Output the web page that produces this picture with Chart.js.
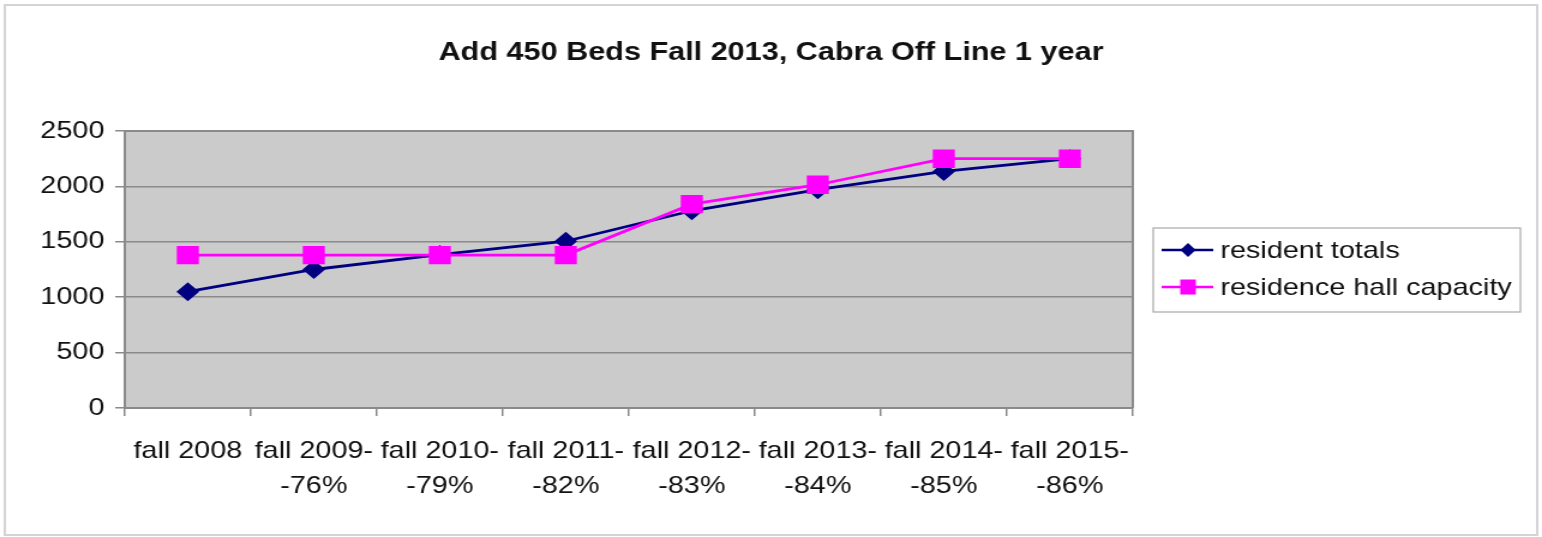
<!DOCTYPE html>
<html>
<head>
<meta charset="utf-8">
<script src="https://cdn.jsdelivr.net/npm/chart.js@4"></script>
<style>
  body { margin: 0; background: #fff; }
  #grafico { display: block; }
</style>
</head>
<body>
<!-- the reference is stretched sideways, so the canvas is drawn narrow and widened by the inline style -->
<canvas id="grafico" width="1285" height="537" style="width: 1542px; height: 537px;"></canvas>
<script>
let titulo = "Add 450 Beds Fall 2013, Cabra Off Line 1 year";

let categorias = [
  ["fall 2008"],
  ["fall 2009-", "-76%"],
  ["fall 2010-", "-79%"],
  ["fall 2011-", "-82%"],
  ["fall 2012-", "-83%"],
  ["fall 2013-", "-84%"],
  ["fall 2014-", "-85%"],
  ["fall 2015-", "-86%"]
];

let residentTotals = [1050, 1250, 1385, 1505, 1780, 1970, 2135, 2250];
let hallCapacity = [1380, 1380, 1380, 1380, 1840, 2015, 2250, 2250];

let ticksY = [0, 500, 1000, 1500, 2000, 2500];

let fonte = "'Liberation Sans', Arial, sans-serif";

let fundoEBorda = {
  id: "fundoEBorda",
  beforeDraw(chart) {
    let ctx = chart.ctx;
    let a = chart.chartArea;
    ctx.save();
    ctx.fillStyle = "#ffffff";
    ctx.fillRect(0, 0, chart.width, chart.height);
    ctx.strokeStyle = "#d4d4d4";
    ctx.lineWidth = 2;
    ctx.strokeRect(4, 5, chart.width - 8, chart.height - 7);
    ctx.fillStyle = "#cbcbcb";
    ctx.fillRect(a.left, a.top, a.right - a.left, a.bottom - a.top);
    ctx.restore();
  },
  afterDatasetsDraw(chart) {
    let ctx = chart.ctx;
    let a = chart.chartArea;
    ctx.save();
    ctx.strokeStyle = "#8a8a8a";
    ctx.lineWidth = 2;
    ctx.beginPath();
    ctx.moveTo(a.left, a.top);
    ctx.lineTo(a.right, a.top);
    ctx.lineTo(a.right, a.bottom);
    ctx.stroke();
    ctx.restore();
  },
  afterDraw(chart) {
    let ctx = chart.ctx;
    ctx.save();

    // titulo
    ctx.fillStyle = "#111";
    ctx.font = "bold 25.5px " + fonte;
    ctx.textAlign = "center";
    ctx.textBaseline = "middle";
    ctx.fillText(titulo, chart.width / 2, 53);

    // legenda
    let lx = 961, ly = 228, lw = 306, lh = 84;
    ctx.strokeStyle = "#a8a8a8";
    ctx.lineWidth = 1.2;
    ctx.strokeRect(lx, ly, lw, lh);

    let linhas = [250, 287];
    chart.data.datasets.forEach(function (ds, i) {
      let y = linhas[i];
      ctx.strokeStyle = ds.borderColor;
      ctx.lineWidth = 2.5;
      ctx.beginPath();
      ctx.moveTo(968, y);
      ctx.lineTo(1011, y);
      ctx.stroke();

      ctx.fillStyle = ds.borderColor;
      ctx.beginPath();
      if (ds.pointStyle == "rectRot") {
        ctx.moveTo(990, y - 7);
        ctx.lineTo(996.5, y);
        ctx.lineTo(990, y + 7);
        ctx.lineTo(983.5, y);
        ctx.closePath();
      } else {
        ctx.rect(983.5, y - 7.5, 13, 15);
      }
      ctx.fill();

      ctx.fillStyle = "#111";
      ctx.font = "24px " + fonte;
      ctx.textAlign = "left";
      ctx.textBaseline = "middle";
      ctx.fillText(ds.label, 1017, y + 1);
    });

    ctx.restore();
  }
};

new Chart(document.getElementById("grafico"), {
  type: "line",
  data: {
    labels: categorias,
    datasets: [
      {
        label: "resident totals",
        data: residentTotals,
        borderColor: "#000080",
        backgroundColor: "#000080",
        borderWidth: 2.8,
        pointStyle: "rectRot",
        pointRadius: 7.5,
        pointHoverRadius: 7.5,
        tension: 0,
        order: 1
      },
      {
        label: "residence hall capacity",
        data: hallCapacity,
        borderColor: "#ff00ff",
        backgroundColor: "#ff00ff",
        borderWidth: 2.8,
        pointStyle: "rect",
        pointRadius: 11,
        pointHoverRadius: 11,
        tension: 0,
        order: 0
      }
    ]
  },
  options: {
    responsive: false,
    devicePixelRatio: 1,
    animation: false,
    layout: {
      padding: { top: 131, right: 341, bottom: 0, left: 0 }
    },
    scales: {
      x: {
        offset: true,
        afterFit(scale) { scale.height = 129; },
        grid: {
          offset: true,
          drawOnChartArea: false,
          drawTicks: true,
          tickLength: 8,
          color: "#8a8a8a",
          lineWidth: 1.5
        },
        border: { color: "#8a8a8a", width: 2 },
        ticks: {
          color: "#111",
          padding: 18,
          maxRotation: 0,
          autoSkip: false,
          font: { family: fonte, size: 24, lineHeight: 1.46 }
        }
      },
      y: {
        min: 0,
        max: 2500,
        afterFit(scale) { scale.width = 104; },
        afterBuildTicks(scale) {
          scale.ticks = ticksY.map(function (v) { return { value: v }; });
        },
        grid: {
          color: "#8a8a8a",
          lineWidth: 1.5,
          tickLength: 8
        },
        border: { color: "#8a8a8a", width: 2 },
        ticks: {
          color: "#111",
          padding: 9,
          font: { family: fonte, size: 24 },
          callback: function (v) { return String(v); }
        }
      }
    },
    plugins: {
      legend: { display: false },
      title: { display: false },
      tooltip: { enabled: false }
    }
  },
  plugins: [fundoEBorda]
});
</script>
</body>
</html>
